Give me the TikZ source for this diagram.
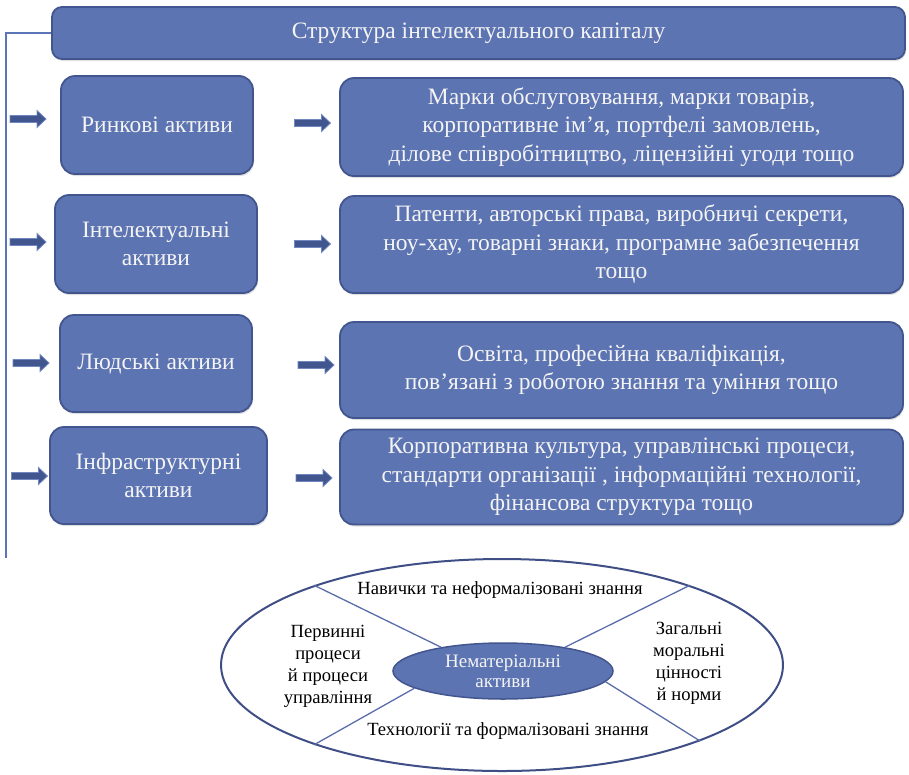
\documentclass[tikz,border=0pt]{standalone}
\usepackage{fontspec}
\setmainfont{Liberation Serif}
\usetikzlibrary{shapes.geometric,shadows}

\definecolor{boxfill}{HTML}{5D74B2}
\definecolor{boxline}{HTML}{42558F}
\definecolor{arrowfill}{HTML}{41558F}
\definecolor{arrowline}{HTML}{7087C0}
\definecolor{railblue}{HTML}{5C75B8}
\definecolor{ringline}{HTML}{3F4F86}
\definecolor{spokeblue}{HTML}{5A6DAA}
\definecolor{boxtext}{HTML}{F4F4F4}

\begin{document}
\begin{tikzpicture}[x=1pt,y=-1pt,
  box/.style={draw=boxline, line width=1.8pt, fill=boxfill, rounded corners=14pt,
    text=boxtext, align=center, inner sep=0pt,
    font=\fontsize{23.5}{28.5}\selectfont,
    drop shadow={opacity=0.25, shadow xshift=1pt, shadow yshift=-2pt}},
  blockarrow/.pic={
    \filldraw[fill=arrowfill, draw=arrowline, line width=0.8pt]
      (-18,-3.5) -- (9,-3.5) -- (9,-8.5) -- (18,0) -- (9,8.5) -- (9,3.5) -- (-18,3.5) -- cycle;},
  lab/.style={align=center, inner sep=0pt, font=\fontsize{18.6}{22}\selectfont},
]
\useasboundingbox (0,0) rectangle (909,774);

% title bar
\node[box, rounded corners=10pt, minimum width=853pt, minimum height=52pt]
  (top) at (478.5,33) {Структура інтелектуального капіталу};

% vertical rail on the left
\coordinate (railend) at (6,558);
\draw[railblue, line width=1.6pt] (railend) |- (top.west);

% asset groups
\node[box, minimum width=192pt, minimum height=98pt] (b1) at (157,125) {Ринкові активи};
\node[box, minimum width=202pt, minimum height=98pt] (b2) at (156,244) {Інтелектуальні\\активи};
\node[box, minimum width=192pt, minimum height=97pt] (b3) at (156,363.5) {Людські активи};
\node[box, minimum width=217pt, minimum height=97pt] (b4) at (158.5,475.5) {Інфраструктурні\\активи};

% contents of each group
\node[box, minimum width=563pt, minimum height=98pt] (r1) at (621.5,127)
  {Марки обслуговування, марки товарів,\\корпоративне ім’я, портфелі замовлень,\\ділове співробітництво, ліцензійні угоди тощо};
\node[box, minimum width=563pt, minimum height=97pt] (r2) at (621.5,244.5)
  {Патенти, авторські права, виробничі секрети,\\ноу-хау, товарні знаки, програмне забезпечення\\тощо};
\node[box, minimum width=563pt, minimum height=96pt] (r3) at (621.5,370)
  {Освіта, професійна кваліфікація,\\пов’язані з роботою знання та уміння тощо};
\node[box, minimum width=563pt, minimum height=95pt] (r4) at (621.5,477)
  {Корпоративна культура, управлінські процеси,\\стандарти організації , інформаційні технології,\\фінансова структура тощо};

% block arrows
\pic (la1) at (28,119) {blockarrow};
\pic (la2) at (28,242) {blockarrow};
\pic (la3) at (31,363) {blockarrow};
\pic (la4) at (29.5,476) {blockarrow};
\pic (ma1) at (312.5,123) {blockarrow};
\pic (ma2) at (312.5,244) {blockarrow};
\pic (ma3) at (316,365) {blockarrow};
\pic (ma4) at (314,478) {blockarrow};

% intangible assets diagram
\node[ellipse, draw=ringline, line width=2pt, minimum width=562pt, minimum height=212pt, inner sep=0pt]
  (outer) at (502,665) {};
\node[ellipse, draw=boxline, line width=1.5pt, fill=boxfill, minimum width=220pt, minimum height=56pt,
  text=boxtext, align=center, inner sep=0pt, font=\fontsize{19}{20}\selectfont]
  (core) at (503,671) {Нематеріальні\\активи};

\draw[spokeblue, line width=1.3pt] (core.159) -- (outer.157);
\draw[spokeblue, line width=1.3pt] (core.21) -- (outer.23);
\draw[spokeblue, line width=1.3pt] (core.191) -- (outer.203.5);
\draw[spokeblue, line width=1.3pt] (core.354) -- (outer.339);

\node[lab] (skills) at (500,590) {Навички та неформалізовані знання};
\node[lab] (tech) at (508,731) {Технології та формалізовані знання};
\node[lab] (proc) at (328,666) {Первинні\\процеси\\й процеси\\управління};
\node[lab] (norms) at (689,663) {Загальні\\моральні\\цінності\\й норми};
\end{tikzpicture}
\end{document}
